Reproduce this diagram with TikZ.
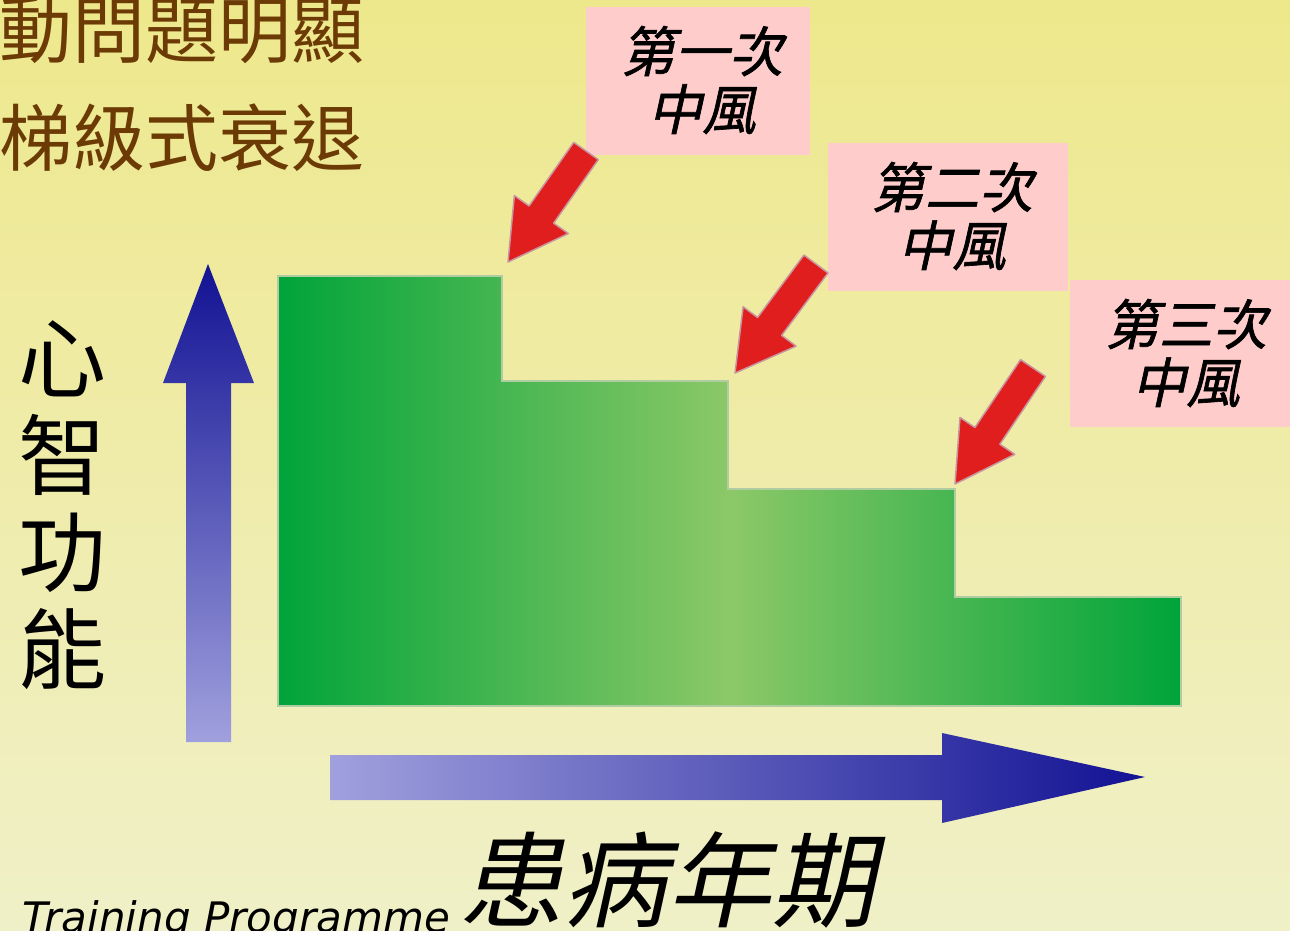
\documentclass[tikz,border=0pt]{standalone}
\usepackage{fontspec}
\newfontfamily\cjk{Noto Sans CJK TC}
\newfontfamily\cjkit[FakeSlant=0.22,FakeBold=1.2]{Noto Sans CJK TC}
\newfontfamily\cjkitb[FakeSlant=0.22]{Noto Sans CJK TC}
\newfontfamily\footfont{DejaVu Sans}
\usetikzlibrary{calc}
\definecolor{bgtop}{RGB}{238,232,140}
\definecolor{bgbot}{RGB}{240,240,200}
\definecolor{brown}{RGB}{107,58,5}
\definecolor{pinkbox}{RGB}{255,204,204}
\definecolor{gdark}{RGB}{0,164,58}
\definecolor{glight}{RGB}{140,200,104}
\definecolor{gedge}{RGB}{175,205,160}
\definecolor{navy}{RGB}{18,18,148}
\definecolor{lav}{RGB}{160,160,222}
\definecolor{arrred}{RGB}{224,30,30}
\definecolor{arredge}{RGB}{200,150,160}
\tikzset{
  lbltext/.style={font=\cjkit\fontsize{54}{58}\selectfont, align=center, inner sep=0},
  redarrow/.style={fill=arrred, draw=arredge, line width=1.5pt, line join=round},
}
\newcommand{\strokearrow}[2]{%
  \coordinate (B) at ($(#2)!58pt!(#1)$);
  \path[redarrow] ($(#1)!15pt!90:(#2)$) -- ($(B)!15pt!-90:(#1)$) -- ($(B)!33pt!-90:(#1)$) -- (#2)
     -- ($(B)!33pt!90:(#1)$) -- ($(B)!15pt!90:(#1)$) -- ($(#1)!15pt!-90:(#2)$) -- cycle;
}
\begin{document}
\begin{tikzpicture}[x=1pt,y=-1pt]
\useasboundingbox (0,0) rectangle (1290,930);
\shade[top color=bgtop, bottom color=bgbot] (0,0) rectangle (1290,930);

% top-left text
\node[anchor=west, inner sep=0, text=brown, font=\cjk\fontsize{73}{73}\selectfont] (t1) at (-1,30) {動問題明顯};
\node[anchor=west, inner sep=0, text=brown, font=\cjk\fontsize{73}{73}\selectfont] (t2) at (-1,138) {梯級式衰退};

% vertical axis label
\node[inner sep=0, font=\cjk\fontsize{88}{97}\selectfont, align=center] (ylab) at (62,505) {心\\智\\功\\能};

% up arrow
\shade[top color=navy, bottom color=lav] (186,742) -- (186,383) -- (163,383) -- (208,264) -- (254,383) -- (231,383) -- (231,742) -- cycle;
% right arrow
\shade[left color=lav, right color=navy] (330,755) -- (942,755) -- (942,733) -- (1145,777) -- (942,823) -- (942,800) -- (330,800) -- cycle;

% green staircase
\shade[left color=gdark, right color=gdark, middle color=glight, draw=gedge, line width=2pt]
  (278,276) -- (502,276) -- (502,381) -- (728,381) -- (728,489) -- (955,489) -- (955,597) -- (1181,597) -- (1181,706) -- (278,706) -- cycle;

% pink labels
\fill[pinkbox] (586,7) rectangle (810,155);
\node[lbltext] (l1) at (702,80) {第一次\\中風};
\fill[pinkbox] (828,143) rectangle (1068,291);
\node[lbltext] (l2) at (952,216) {第二次\\中風};
\fill[pinkbox] (1070,280) rectangle (1290,427);
\node[lbltext] (l3) at (1186,353) {第三次\\中風};

% red arrows
\coordinate (a1s) at (586,151);
\coordinate (a1t) at (508,262);
\coordinate (a2s) at (816,264);
\coordinate (a2t) at (735,373);
\coordinate (a3s) at (1033,368);
\coordinate (a3t) at (955,484);
\strokearrow{a1s}{a1t}
\strokearrow{a2s}{a2t}
\strokearrow{a3s}{a3t}

% x label
\node[inner sep=0, font=\cjkitb\fontsize{104}{104}\selectfont] (xlab) at (667,880) {患病年期};

% footer
\node[anchor=base west, inner sep=0, font=\footfont\itshape\fontsize{42}{42}\selectfont] (foot) at (22,932) {Training Programme};
\end{tikzpicture}
\end{document}
